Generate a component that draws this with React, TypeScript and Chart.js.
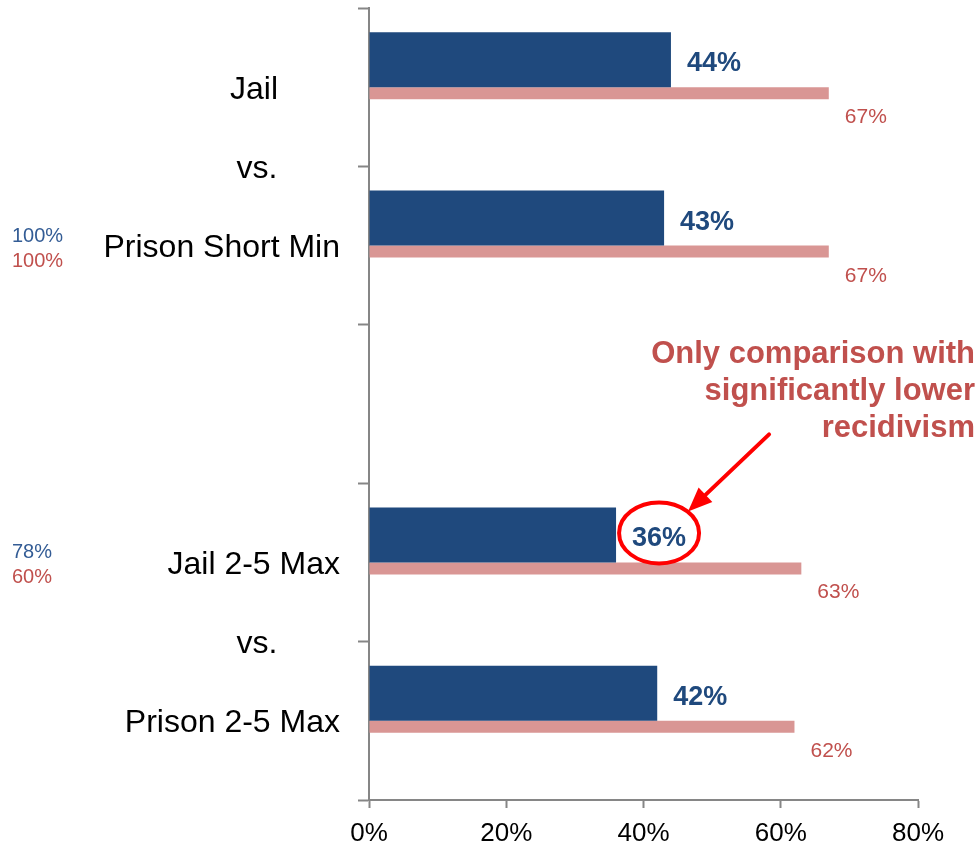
import React, { useEffect, useRef } from "react";
import { Chart, registerables } from "chart.js";

Chart.register(...registerables);

// ---- data ----
const categories = ["Jail", "Prison Short Min", "", "Jail 2-5 Max", "Prison 2-5 Max"];
const blueSeries = [44, 43, null, 36, 42];
const pinkSeries = [67, 67, null, 63, 62];
const sideBlue = [null, 100, null, 78, null];
const sideRed = [null, 100, null, 60, null];
const separatorPairs = [[0, 1], [3, 4]];
const separatorText = "vs.";
const xTickValues = [0, 20, 40, 60, 80];
const highlightIndex = 3;
const noteLines = ["Only comparison with", "significantly lower", "recidivism"];

const FONT = "'Liberation Sans', Arial, Helvetica, sans-serif";
const BLUE = "#1F497D";
const PINK = "#D99694";
const RED_TEXT = "#C0504D";
const SIDE_BLUE = "#335C95";
const AXIS = "#868686";

const overlayPlugin = {
  id: "overlay",
  afterDraw(chart: any) {
    const ctx = chart.ctx;
    const area = chart.chartArea;
    const yS = chart.scales.y;
    ctx.save();

    // category labels
    ctx.font = `32px ${FONT}`;
    ctx.fillStyle = "#000";
    ctx.textBaseline = "alphabetic";
    ctx.textAlign = "center";
    const centerX = area.left - 115;
    const rightX = area.left - 29;
    categories.forEach((lab, i) => {
      if (!lab) return;
      const w = ctx.measureText(lab).width;
      const cx = Math.min(centerX, rightX - w / 2);
      ctx.fillText(lab, cx, yS.getPixelForValue(i) + 11.5);
    });
    separatorPairs.forEach(([a, b]) => {
      const y = (yS.getPixelForValue(a) + yS.getPixelForValue(b)) / 2;
      ctx.fillText(separatorText, centerX + 3, y + 11.5);
    });

    // side labels
    ctx.font = `20px ${FONT}`;
    ctx.textAlign = "left";
    categories.forEach((_, i) => {
      const y = yS.getPixelForValue(i);
      if (sideBlue[i] != null) {
        ctx.fillStyle = SIDE_BLUE;
        ctx.fillText(sideBlue[i] + "%", 12, y - 4);
      }
      if (sideRed[i] != null) {
        ctx.fillStyle = RED_TEXT;
        ctx.fillText(sideRed[i] + "%", 12, y + 21);
      }
    });

    // data labels
    const blueMeta = chart.getDatasetMeta(0);
    const pinkMeta = chart.getDatasetMeta(1);
    let hl: any = null;
    ctx.font = `bold 27px ${FONT}`;
    ctx.fillStyle = BLUE;
    blueMeta.data.forEach((el: any, i: number) => {
      if (blueSeries[i] == null) return;
      const txt = blueSeries[i] + "%";
      const x = el.x + 16;
      ctx.fillText(txt, x, el.y + 11.5);
      if (i === highlightIndex) {
        const w = ctx.measureText(txt).width;
        hl = { x: x + w / 2, y: el.y - 2 };
      }
    });
    ctx.font = `21px ${FONT}`;
    ctx.fillStyle = RED_TEXT;
    pinkMeta.data.forEach((el: any, i: number) => {
      if (pinkSeries[i] == null) return;
      ctx.fillText(pinkSeries[i] + "%", el.x + 16, el.y + el.height / 2 + 24);
    });

    if (hl) {
      // ellipse
      ctx.strokeStyle = "#FF0000";
      ctx.lineWidth = 4;
      ctx.beginPath();
      ctx.ellipse(hl.x, hl.y, 40, 30.5, 0, 0, Math.PI * 2);
      ctx.stroke();
      // arrow
      const tipX = hl.x + 29, tipY = hl.y - 21.5;
      const sX = hl.x + 110, sY = hl.y - 98.5;
      const ang = Math.atan2(tipY - sY, tipX - sX);
      const headLen = 24, headW = 10;
      const bx = tipX - headLen * Math.cos(ang), by = tipY - headLen * Math.sin(ang);
      ctx.lineCap = "round";
      ctx.beginPath();
      ctx.moveTo(sX, sY);
      ctx.lineTo(bx, by);
      ctx.stroke();
      ctx.fillStyle = "#FF0000";
      ctx.beginPath();
      ctx.moveTo(tipX, tipY);
      ctx.lineTo(bx + headW * Math.sin(ang), by - headW * Math.cos(ang));
      ctx.lineTo(bx - headW * Math.sin(ang), by + headW * Math.cos(ang));
      ctx.closePath();
      ctx.fill();

      // note
      ctx.font = `bold 31px ${FONT}`;
      ctx.fillStyle = RED_TEXT;
      ctx.textAlign = "right";
      const nx = area.right + 57;
      const base = [-169.5, -132.5, -95.5];
      noteLines.forEach((t, k) => ctx.fillText(t, nx, hl.y + base[k]));
    }
    ctx.restore();
  },
};

export default function App() {
  const ref = useRef<HTMLCanvasElement | null>(null);
  useEffect(() => {
    if (!ref.current) return;
    const chart = new Chart(ref.current, {
      type: "bar",
      data: {
        labels: categories,
        datasets: [
          {
            data: blueSeries,
            backgroundColor: BLUE,
            stack: "a",
            categoryPercentage: 110 / 158.4,
            barPercentage: 1,
          },
          {
            data: pinkSeries,
            backgroundColor: PINK,
            stack: "b",
            categoryPercentage: 24 / 158.4,
            barPercentage: 1,
          },
        ],
      } as any,
      options: {
        indexAxis: "y",
        animation: false,
        responsive: false,
        maintainAspectRatio: false,
        layout: { padding: { top: 8, right: 62, left: 0, bottom: 0 } },
        plugins: { legend: { display: false }, tooltip: { enabled: false } },
        scales: {
          x: {
            type: "linear",
            position: "bottom",
            min: 0,
            max: 80,
            afterBuildTicks: (s: any) => {
              s.ticks = xTickValues.map((v) => ({ value: v }));
            },
            afterFit: (s: any) => {
              s.height = 50;
            },
            ticks: {
              callback: (v: any) => v + "%",
              color: "#000",
              font: { family: FONT, size: 26 },
              padding: 10,
              maxRotation: 0,
            },
            grid: { drawOnChartArea: false, drawTicks: true, tickLength: 8, tickColor: AXIS, tickWidth: 2 },
            border: { color: AXIS, width: 2 },
          },
          y: {
            type: "category",
            position: "left",
            offset: true,
            afterFit: (s: any) => {
              s.width = 369;
            },
            ticks: { display: false },
            grid: { offset: true, drawOnChartArea: false, drawTicks: true, tickLength: 11, tickColor: AXIS, tickWidth: 2 },
            border: { color: AXIS, width: 2 },
          },
        },
      } as any,
      plugins: [overlayPlugin],
    });
    return () => chart.destroy();
  }, []);
  return (
    <div style={{ position: "absolute", left: 0, top: 0, width: 980, height: 850, background: "#fff" }}>
      <canvas ref={ref} width={980} height={850} style={{ display: "block" }} />
    </div>
  );
}
